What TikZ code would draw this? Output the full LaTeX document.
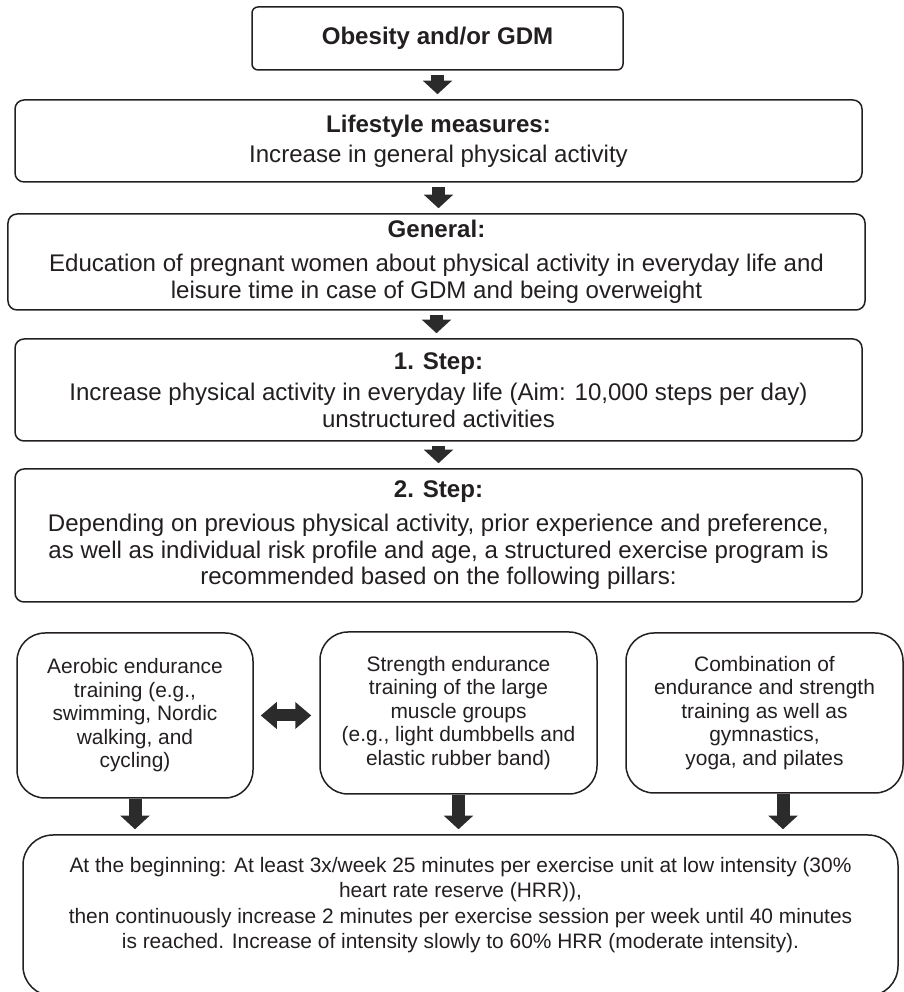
\documentclass[tikz,border=0pt]{standalone}
\usepackage{fontspec}
\setmainfont{Liberation Sans}
\usetikzlibrary{arrows.meta}
\definecolor{boxline}{HTML}{231F20}
\definecolor{arrowfill}{HTML}{2B2B2B}

\begin{document}
\begin{tikzpicture}[
  mainbox/.style={draw=boxline,text=boxline,line width=0.03cm,rounded corners=0.18cm,align=center,inner sep=0pt,font=\fontsize{13.7}{15.2}\selectfont},
  pillar/.style={draw=boxline,text=boxline,line width=0.03cm,rounded corners=0.56cm,align=center,inner sep=0pt,font=\fontsize{11.9}{13.4}\selectfont},
  blockarrow/.style={draw=arrowfill,line width=0.26cm,-{Triangle[width=0.57cm,length=0.27cm]},shorten <=0.08cm,shorten >=0.1cm},
  twoway/.style={draw=arrowfill,line width=0.24cm,{Triangle[width=0.52cm,length=0.32cm]}-{Triangle[width=0.52cm,length=0.32cm]},shorten <=0.14cm,shorten >=0.16cm}
]
\useasboundingbox (0,0) rectangle (18.08,19.84);

\node[mainbox,rounded corners=0.12cm,minimum width=7.42cm,minimum height=1.26cm] (obes) at (8.75,19.07) {\textbf{Obesity and/or GDM}};
\node[mainbox,minimum width=16.94cm,minimum height=1.64cm] (life) at (8.77,17.02) {\textbf{Lifestyle measures:}\\[0.06cm]Increase in general physical activity};
\node[mainbox,minimum width=17.14cm,minimum height=1.92cm] (gen) at (8.73,14.60) {\textbf{General:}\\[0.14cm]Education of pregnant women about physical activity in everyday life and\\leisure time in case of GDM and being overweight};
\node[mainbox,minimum width=16.94cm,minimum height=2.04cm] (step1) at (8.77,12.04) {\textbf{1. Step:}\\[0.1cm]Increase physical activity in everyday life (Aim: 10,000 steps per day)\\unstructured activities};
\node[mainbox,minimum width=16.94cm,minimum height=2.66cm] (step2) at (8.77,9.13) {\textbf{2. Step:}\\[0.14cm]Depending on previous physical activity, prior experience and preference,\\as well as individual risk profile and age, a structured exercise program is\\recommended based on the following pillars:};

\node[pillar,minimum width=4.72cm,minimum height=3.30cm] (aer) at (2.70,5.53) {Aerobic endurance\\training (e.g.,\\swimming, Nordic\\walking, and\\cycling)};
\node[pillar,minimum width=5.54cm,minimum height=3.24cm] (str) at (9.17,5.58) {Strength endurance\\training of the large\\muscle groups\\(e.g., light dumbbells and\\elastic rubber band)};
\node[pillar,minimum width=5.54cm,minimum height=3.20cm] (comb) at (15.29,5.58) {Combination of\\endurance and strength\\training as well as\\gymnastics,\\yoga, and pilates};

\node[pillar,rounded corners=0.6cm,minimum width=17.5cm,minimum height=3.22cm,font=\fontsize{11.9}{14.4}\selectfont] (begin) at (9.21,1.53) {At the beginning: At least 3x/week 25 minutes per exercise unit at low intensity (30\%\\heart rate reserve (HRR)),\\then continuously increase 2 minutes per exercise session per week until 40 minutes\\is reached. Increase of intensity slowly to 60\% HRR (moderate intensity).\\\mbox{}};

\draw[blockarrow] (obes.south) -- (obes.south |- life.north);
\draw[blockarrow] (life.south) -- (life.south |- gen.north);
\draw[blockarrow] (gen.south) -- (gen.south |- step1.north);
\draw[blockarrow] (step1.south) -- (step1.south |- step2.north);

\draw[twoway] (aer.east) -- (aer.east -| str.west);

\coordinate (combout) at ([xshift=0.37cm]comb.south);
\draw[blockarrow,shorten <=0cm] (aer.south) -- (aer.south |- begin.north);
\draw[blockarrow,shorten <=0cm] (str.south) -- (str.south |- begin.north);
\draw[blockarrow,shorten <=0cm] (combout) -- (combout |- begin.north);

\end{tikzpicture}
\end{document}
